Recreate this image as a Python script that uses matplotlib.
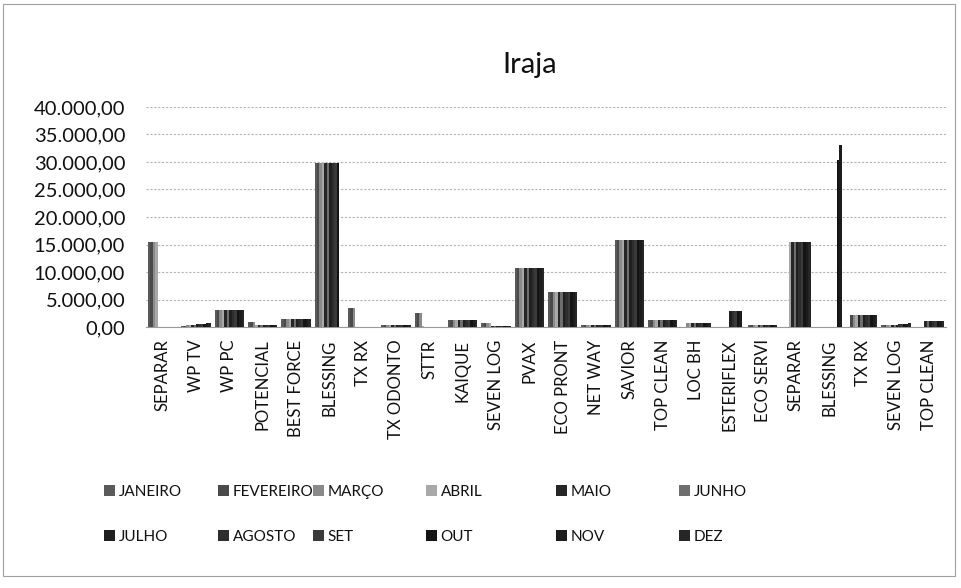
"""Iraja - monthly payments by supplier (recreated Excel column chart)."""
import matplotlib
matplotlib.use("Agg")
import matplotlib.pyplot as plt
import numpy as np
from matplotlib.patches import Patch, Rectangle

plt.rcParams["font.family"] = ["Lato", "DejaVu Sans"]

INK = "#111111"
GRID = "#b4b4b4"

categories = [
    "SEPARAR", "WP TV", "WP PC", "POTENCIAL", "BEST FORCE", "BLESSING",
    "TX RX", "TX ODONTO", "STTR", "KAIQUE", "SEVEN LOG", "PVAX",
    "ECO PRONT", "NET WAY", "SAVIOR", "TOP CLEAN", "LOC BH", "ESTERIFLEX",
    "ECO SERVI", "SEPARAR", "BLESSING", "TX RX", "SEVEN LOG", "TOP CLEAN",
]

months = ["JANEIRO", "FEVEREIRO", "MARÇO", "ABRIL", "MAIO", "JUNHO",
          "JULHO", "AGOSTO", "SET", "OUT", "NOV", "DEZ"]

# one list per month, one value per category
janeiro   = [15500, 200, 3100, 950, 1400, 29800, 3500, 300, 2600, 1350, 700, 10700,
             6400, 400, 15900, 1300, 0, 0, 300, 0, 0, 0, 300, 0]
fevereiro = [15500, 250, 3100, 950, 1400, 29800, 3500, 300, 2600, 1350, 700, 10700,
             6400, 400, 15900, 1300, 0, 0, 300, 0, 0, 2100, 300, 0]
marco     = [15500, 300, 3100, 950, 1400, 29800, 3500, 300, 2600, 1350, 700, 10700,
             6400, 400, 15900, 1300, 800, 0, 300, 0, 0, 2100, 350, 0]
abril     = [15500, 350, 3100, 450, 1400, 29800, 0, 300, 200, 1350, 700, 10700,
             6400, 400, 15900, 1300, 800, 0, 300, 15500, 0, 2100, 350, 0]
maio      = [0, 400, 3100, 450, 1400, 29800, 0, 300, 0, 1350, 100, 10700,
             6400, 400, 15900, 1300, 800, 0, 300, 15500, 0, 2100, 400, 1100]
junho     = [0, 450, 3100, 450, 1400, 29800, 0, 300, 0, 1350, 100, 10700,
             6400, 400, 15900, 1300, 800, 0, 300, 15500, 0, 2100, 400, 1100]
julho     = [0, 500, 3100, 450, 1400, 29800, 0, 300, 0, 1350, 100, 10700,
             6400, 400, 15900, 1300, 800, 2900, 300, 15500, 0, 2100, 450, 1100]
agosto    = [0, 550, 3100, 450, 1400, 29800, 0, 300, 0, 1350, 100, 10700,
             6400, 400, 15900, 1300, 800, 2900, 300, 15500, 0, 2100, 500, 1100]
setembro  = [0, 600, 3100, 450, 1400, 29800, 0, 300, 0, 1350, 100, 10700,
             6400, 400, 15900, 1300, 800, 2900, 300, 15500, 0, 2100, 550, 1100]
outubro   = [0, 600, 3100, 450, 1400, 29800, 0, 300, 0, 1350, 100, 10700,
             6400, 400, 15900, 1300, 800, 2900, 300, 15500, 30400, 2100, 600, 1100]
novembro  = [0, 650, 3100, 450, 1400, 0, 0, 300, 0, 1350, 100, 10700,
             6400, 400, 15900, 1300, 800, 2900, 300, 15500, 33100, 2100, 600, 1100]
dezembro  = [0, 700, 3100, 450, 1400, 0, 0, 300, 0, 1350, 100, 10700,
             6400, 400, 15900, 1300, 800, 0, 300, 15500, 0, 2100, 650, 1100]

series = [janeiro, fevereiro, marco, abril, maio, junho,
          julho, agosto, setembro, outubro, novembro, dezembro]

# greys as they come out of the black & white scan
colors = ["#5a5a5a", "#4a4a4a", "#8a8a8a", "#a8a8a8", "#262626", "#6e6e6e",
          "#1f1f1f", "#2e2e2e", "#3a3a3a", "#141414", "#1c1c1c", "#262626"]

yticks = [0, 5000, 10000, 15000, 20000, 25000, 30000, 35000, 40000]


def br(v: float) -> str:
    return f"{v:,.2f}".replace(",", "X").replace(".", ",").replace("X", ".")


W, H = 962, 588
fig = plt.figure(figsize=(W / 100, H / 100), dpi=100, facecolor="white")
ax = fig.add_axes([146 / W, 1 - 327 / H, 800 / W, 220 / H])

x = np.arange(len(categories))
n = len(series)
bw = 1 / (n + 1.5)
for j, (vals, col) in enumerate(zip(series, colors)):
    ax.bar(x + (j - (n - 1) / 2) * bw, vals, width=bw, color=col,
           edgecolor="none", label=months[j], zorder=3)

ax.set_xlim(-0.5, len(categories) - 0.5)
ax.set_ylim(0, 40000)
ax.set_yticks(yticks)
ax.set_yticklabels([br(v) for v in yticks], fontsize=14.5, color=INK)
ax.set_xticks(x)
ax.set_xticklabels(categories, rotation=90, fontsize=12, color=INK)
ax.tick_params(axis="y", length=0, pad=15)
ax.tick_params(axis="x", length=0, pad=9)
ax.grid(axis="y", color=GRID, linewidth=0.8, linestyle=(0, (2, 1.5)), zorder=0)
for s in ["top", "right", "left"]:
    ax.spines[s].set_visible(False)
ax.spines["bottom"].set_color("#9a9a9a")
ax.spines["bottom"].set_linewidth(0.8)

fig.text(530 / W, 1 - 65 / H, "Iraja", ha="center", va="center",
         fontsize=21, color=INK)

# legend: Excel lays the 6 columns out unevenly, so one small legend per column
col_x = [104, 218, 313, 426, 556, 679]
for k, cx in enumerate(col_x):
    handles = [Patch(facecolor=colors[k], edgecolor="none", label=months[k]),
               Patch(facecolor=colors[k + 6], edgecolor="none", label=months[k + 6])]
    leg = fig.legend(handles=handles, loc="upper left",
                     bbox_to_anchor=(cx / W, 1 - 485 / H), frameon=False,
                     fontsize=11, handlelength=0.7, handleheight=0.7,
                     handletextpad=0.25, labelspacing=2.0,
                     borderpad=0, borderaxespad=0)
    for t in leg.get_texts():
        t.set_color(INK)

fig.add_artist(Rectangle((3 / W, 1 - 576 / H), 952 / W, 572 / H,
                         transform=fig.transFigure, fill=False,
                         edgecolor="#a0a0a0", linewidth=0.8))

fig.savefig("out.png", dpi=100, facecolor="white")
